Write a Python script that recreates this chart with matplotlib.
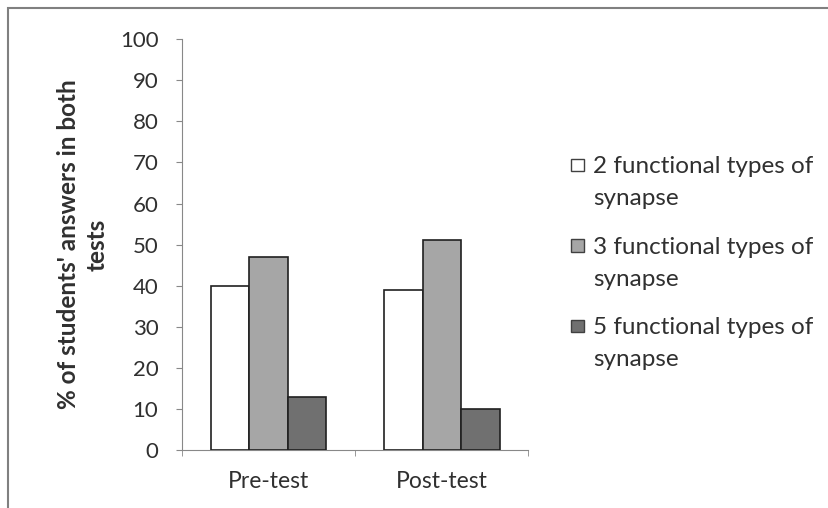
import matplotlib.pyplot as plt
import numpy as np
from matplotlib.patches import Rectangle
from matplotlib.legend_handler import HandlerPatch

plt.rcParams['font.family'] = ['Lato', 'DejaVu Sans']

groups = ['Pre-test', 'Post-test']
series = ['2 functional types of\nsynapse',
          '3 functional types of\nsynapse',
          '5 functional types of\nsynapse']
values = [[40, 39], [47, 51], [13, 10]]
colors = ['#ffffff', '#a6a6a6', '#707070']

fig = plt.figure(figsize=(8.29, 5.08), dpi=100)
ax = fig.add_axes([0.2195, 0.114, 0.418, 0.809])

x = np.arange(len(groups))
w = 0.222
for i, (vals, c) in enumerate(zip(values, colors)):
    ax.bar(x + (i - 1) * w, vals, w, color=c, edgecolor='#202020',
           linewidth=1.2, zorder=3)

ax.set_xlim(-0.5, 1.5)
ax.set_ylim(0, 100)
ax.set_yticks(range(0, 101, 10))
ax.set_xticks(x)
ax.set_xticklabels(groups, fontsize=16.5, color='#303030')
ax.set_xticks([-0.5, 0.5, 1.5], minor=True)
ax.tick_params(axis='x', which='major', length=0, pad=15)
ax.tick_params(axis='x', which='minor', length=4, color='#888888')
ax.tick_params(axis='y', length=4, color='#888888', labelsize=16,
               labelcolor='#303030', pad=13)
for s in ['top', 'right']:
    ax.spines[s].set_visible(False)
ax.spines['left'].set_color('#888888')
ax.spines['bottom'].set_color('#888888')

ax.set_ylabel("% of students' answers in both\ntests", fontsize=17.5,
              fontweight='bold', color='#303030', labelpad=8,
              linespacing=1.3)


def top_square(legend, orig_handle, xdescent, ydescent, width, height, fontsize):
    s = 0.53 * fontsize
    return Rectangle((-xdescent, -ydescent + height - s * 1.1 + 0.34 * fontsize), s, s)


handles = [Rectangle((0, 0), 1, 1, facecolor=c, edgecolor='#404040',
                     linewidth=1.0) for c in colors]
leg = fig.legend(handles, series, loc='upper left',
                 bbox_to_anchor=(0.662, 0.735), frameon=False,
                 fontsize=17.5, handlelength=0.53, handleheight=1.9,
                 handletextpad=0.39, labelspacing=1.15, labelcolor='#303030',
                 handler_map={Rectangle: HandlerPatch(patch_func=top_square)})
for t in leg.get_texts():
    t.set_linespacing(1.62)

fig.patches.append(Rectangle((8 / 829, -0.05), 1.0, 1 - 8 / 508 + 0.05,
                             transform=fig.transFigure, fill=False,
                             edgecolor='#808080', linewidth=1.5))

fig.savefig('out.png', dpi=100)
